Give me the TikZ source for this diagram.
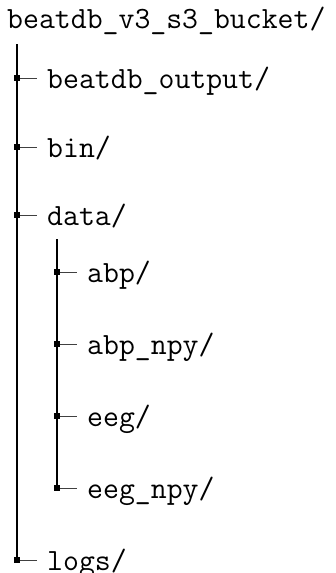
\documentclass[tikz,border=0pt]{standalone}
\begin{document}
\begin{tikzpicture}[x=1pt,y=-1pt,
  label/.style={anchor=base west,inner sep=10pt,font=\fontsize{30.9}{36}\selectfont\ttfamily},
  knot/.style={rectangle,fill=black,minimum size=6pt,inner sep=0pt},
  trunk/.style={draw=black,line width=1.2pt},
  twig/.style={draw=black!75,line width=1pt}]
\useasboundingbox (0,0) rectangle (335,573);

% root folder
\node[label] (root) at (-3,28) {beatdb\_v3\_s3\_bucket/};

% top-level entries
\node[knot] (k1) at (17,78) {};
\node[knot] (k2) at (17,147) {};
\node[knot] (k3) at (17,215) {};
\node[knot] (k4) at (17,560) {};
\node[label] (n1) at (37,88) {beatdb\_output/};
\node[label] (n2) at (37,157) {bin/};
\node[label] (n3) at (37,225) {data/};
\node[label] (n4) at (37,570) {logs/};

% contents of data/
\node[knot] (s1) at (57,272) {};
\node[knot] (s2) at (57,344) {};
\node[knot] (s3) at (57,416) {};
\node[knot] (s4) at (57,488) {};
\node[label] (c1) at (77,282) {abp/};
\node[label] (c2) at (77,354) {abp\_npy/};
\node[label] (c3) at (77,426) {eeg/};
\node[label] (c4) at (77,498) {eeg\_npy/};

% vertical guides
\coordinate (top) at (17,44);
\coordinate (subtop) at (57,239);
\draw[trunk] (top) -- (k4.center);
\draw[trunk] (subtop) -- (s4.center);

% horizontal stubs
\foreach \k/\n in {k1/n1,k2/n2,k3/n3,k4/n4,s1/c1,s2/c2,s3/c3,s4/c4}
  \draw[twig] (\k.center) -- (\k.center -| \n.west);

% redraw the knots on top of the lines
\foreach \k in {k1,k2,k3,k4,s1,s2,s3,s4}
  \fill (\k.south west) rectangle (\k.north east);
\end{tikzpicture}
\end{document}
